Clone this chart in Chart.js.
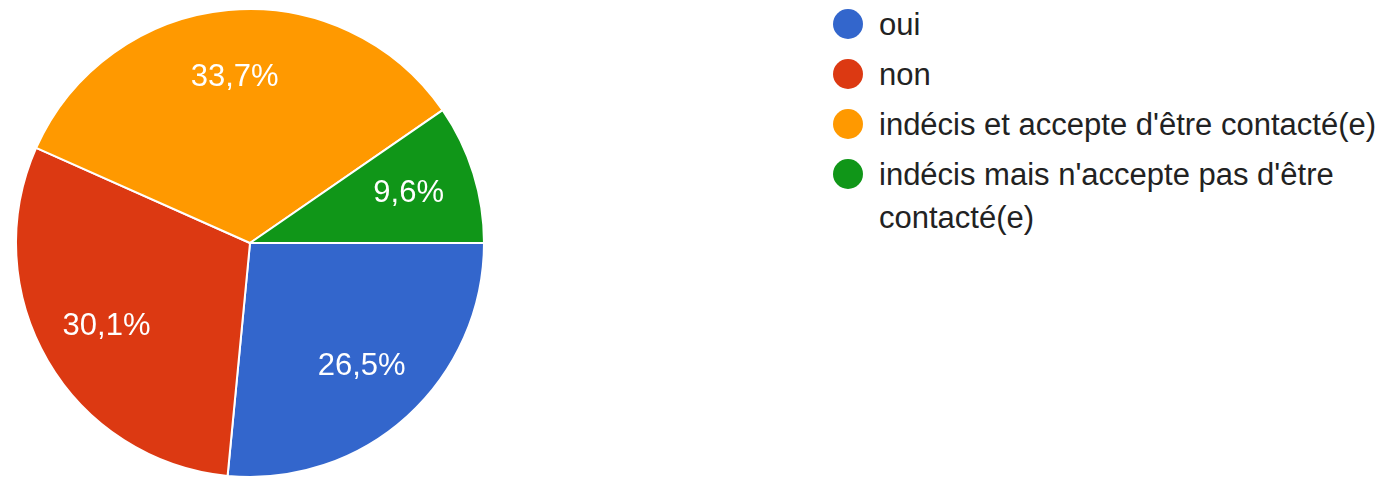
<!DOCTYPE html>
<html>
<head>
<meta charset="utf-8">
<script src="https://cdn.jsdelivr.net/npm/chart.js@4"></script>
<style>
  html, body { margin: 0; padding: 0; background: #fff; }
  body { width: 1397px; height: 478px; position: relative; overflow: hidden;
         font-family: Arial, 'Liberation Sans', sans-serif; }
  #pieWrap { position: absolute; left: 0; top: 0; width: 500px; height: 478px; }
  #legend { position: absolute; left: 833px; top: 3px; width: 560px; }
  .item { display: flex; align-items: flex-start; margin-bottom: 7px; }
  .dot { width: 30px; height: 30px; border-radius: 50%; flex: none; margin-top: 6px; }
  .txt { margin-left: 16px; font-size: 31px; line-height: 43px; color: #222; width: 510px; }
</style>
</head>
<body>
<div id="pieWrap"><canvas id="pie" width="500" height="478"></canvas></div>
<div id="legend"></div>
<script>
// data
var categories = ['oui', 'non', "indécis et accepte d'être contacté(e)", "indécis mais n'accepte pas d'être contacté(e)"];
var values = [26.5, 30.1, 33.7, 9.6];
var colors = ['#3366cc', '#dc3912', '#ff9900', '#109618'];

// percentage labels inside slices
const sliceLabels = {
  id: 'sliceLabels',
  afterDatasetsDraw(chart) {
    const ctx = chart.ctx;
    const meta = chart.getDatasetMeta(0);
    ctx.save();
    ctx.fillStyle = '#fff';
    ctx.font = '31px Arial, "Liberation Sans", sans-serif';
    ctx.textAlign = 'center';
    ctx.textBaseline = 'middle';
    meta.data.forEach(function (arc, i) {
      const p = arc.getProps(['x', 'y', 'startAngle', 'endAngle', 'outerRadius'], true);
      const mid = (p.startAngle + p.endAngle) / 2;
      const r = p.outerRadius * 0.71;
      const txt = values[i].toFixed(1).replace('.', ',') + '%';
      ctx.fillText(txt, p.x + Math.cos(mid) * r, p.y + Math.sin(mid) * r);
    });
    ctx.restore();
  }
};

var ctx_pie = document.getElementById('pie');
var pie = new Chart(ctx_pie, {
  type: 'pie',
  data: {
    labels: categories,
    datasets: [
      {
        data: values,
        backgroundColor: colors,
        borderColor: '#fff',
        borderWidth: 2,
      }
    ],
  },
  options: {
    responsive: false,
    animation: false,
    rotation: 90,
    layout: {
      padding: { top: 8, left: 15, right: 15, bottom: 0 }
    },
    plugins: {
      legend: { display: false },
      tooltip: { enabled: false }
    }
  },
  plugins: [sliceLabels]
});

// legend built from the same arrays
var legendEl = document.getElementById('legend');
categories.forEach(function (name, i) {
  var row = document.createElement('div');
  row.className = 'item';
  var dot = document.createElement('span');
  dot.className = 'dot';
  dot.style.background = colors[i];
  var txt = document.createElement('span');
  txt.className = 'txt';
  txt.textContent = name;
  row.appendChild(dot);
  row.appendChild(txt);
  legendEl.appendChild(row);
});
</script>
</body>
</html>
